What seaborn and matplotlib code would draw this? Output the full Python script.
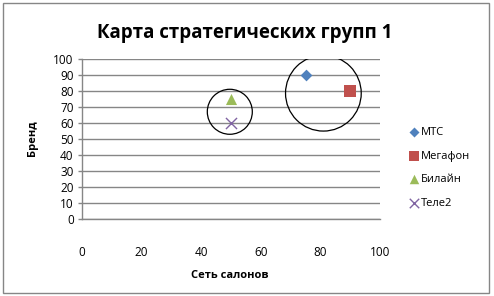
import matplotlib
matplotlib.use("Agg")
import matplotlib.pyplot as plt
import seaborn as sns
import pandas as pd
from matplotlib.patches import Ellipse, Rectangle

companies = ["МТС", "Мегафон", "Билайн", "Теле2"]
salons = [75, 90, 50, 50]
brand = [90, 80, 75, 60]
colors = ["#4F81BD", "#C0504D", "#9BBB59", "#8064A2"]
markers = ["D", "s", "^", "x"]
sizes = [36, 64, 64, 64]
x_ticks = [0, 20, 40, 60, 80, 100]
y_ticks = [0, 10, 20, 30, 40, 50, 60, 70, 80, 90, 100]

sns.set_style("white")
plt.rcParams["font.family"] = ["Open Sans", "DejaVu Sans"]
plt.rcParams["text.color"] = "black"
plt.rcParams["axes.labelcolor"] = "black"
plt.rcParams["xtick.color"] = "black"
plt.rcParams["ytick.color"] = "black"

df = pd.DataFrame({"company": companies, "x": salons, "y": brand})

fig = plt.figure(figsize=(4.94, 2.96), dpi=100)
W, H = 494, 296
ax = fig.add_axes([82 / W, 1 - 219.3 / H, (380 - 82) / W, (219.3 - 59.3) / H])

for c, col, m, s in zip(companies, colors, markers, sizes):
    sub = df[df.company == c]
    sns.scatterplot(data=sub, x="x", y="y", ax=ax, color=col, marker=m, s=s,
                    label=c, linewidth=1 if m == "x" else 0, zorder=4)

ax.set_xlim(0, 100)
ax.set_ylim(0, 100)
ax.set_xticks(x_ticks)
ax.set_yticks(y_ticks)
ax.grid(axis="y", color="#868686", linewidth=1)
ax.grid(axis="x", visible=False)
ax.set_axisbelow(True)
for side in ["top", "right"]:
    ax.spines[side].set_visible(False)
for side in ["left", "bottom"]:
    ax.spines[side].set_color("#868686")
    ax.spines[side].set_linewidth(1)
ax.tick_params(axis="y", left=True, length=3, color="#868686", width=1,
               labelsize=8.5, pad=3, labelcolor="black")
ax.tick_params(axis="x", bottom=False, labelsize=8.5, pad=16, labelcolor="black")

# strategic group circles (px-based diameters converted to data units)
px_x = (380 - 82) / 100
px_y = (219.3 - 59.3) / 100
ax.add_patch(Ellipse((49.6, 67.2), 45 / px_x, 45 / px_y, fill=False,
                     edgecolor="black", linewidth=0.9, zorder=5))
ax.add_patch(Ellipse((81.0, 78.8), 75.7 / px_x, 75.7 / px_y, fill=False,
                     edgecolor="black", linewidth=0.9, zorder=5))

ax.set_xlabel("Сеть салонов", fontsize=8, fontweight="bold", labelpad=0)
ax.set_ylabel("Бренд", fontsize=8, fontweight="bold")
ax.xaxis.set_label_coords((230 - 82) / (380 - 82), -(270 - 219.3) / (219.3 - 59.3))
ax.yaxis.set_label_coords(-(82 - 38) / (380 - 82), (219.3 - 138) / (219.3 - 59.3))

fig.text(245 / W, 1 - 33 / H, "Карта стратегических групп 1", ha="center",
         va="center", fontsize=13.5, fontweight="bold", color="black")

leg = ax.legend(loc="center left", bbox_to_anchor=(404 / W, 1 - 168 / H),
                bbox_transform=fig.transFigure, frameon=False, fontsize=8,
                handletextpad=0.1, labelspacing=1.15, handlelength=1.0,
                borderaxespad=0, markerscale=0.85)

fig.patches.append(Rectangle((3 / W, 3 / H), (489 - 3) / W, (293 - 3) / H,
                             transform=fig.transFigure, fill=False,
                             edgecolor="#868686", linewidth=1))

fig.savefig("out.png", dpi=100)
